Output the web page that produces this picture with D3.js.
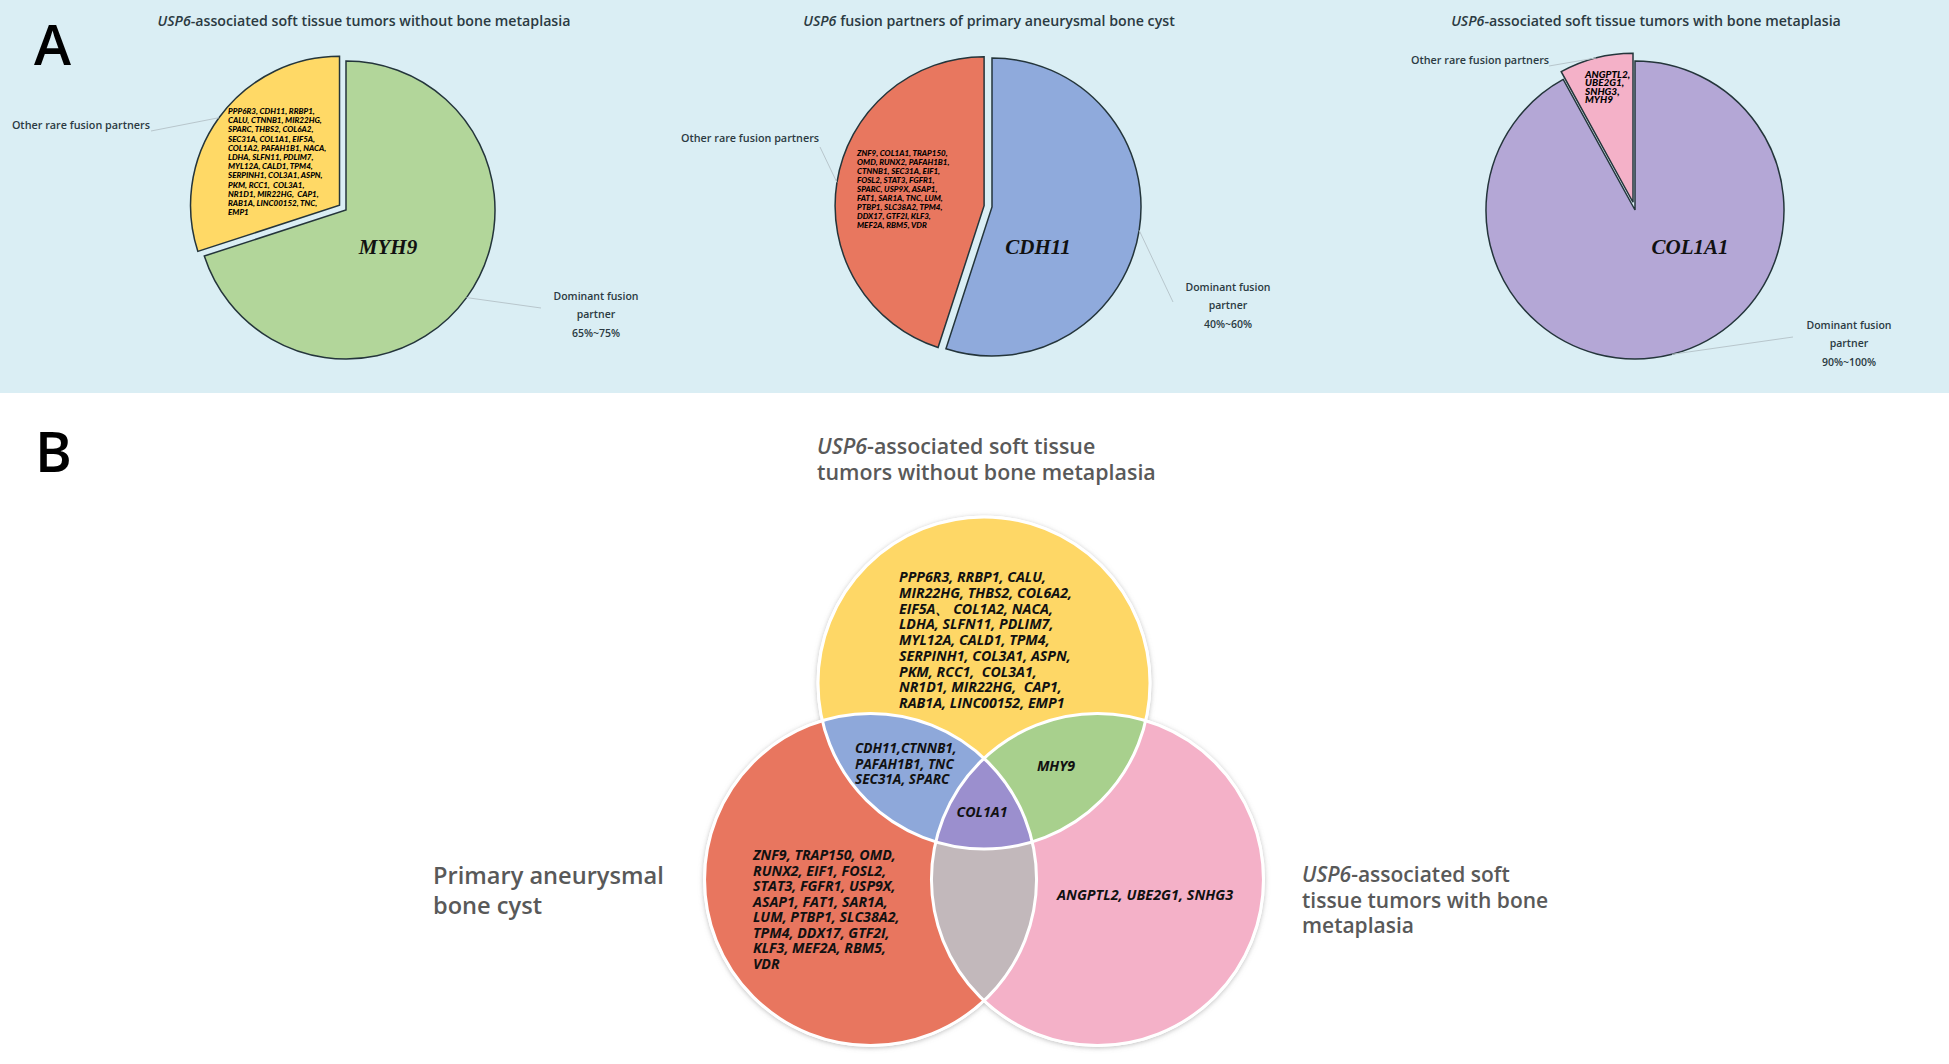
<!DOCTYPE html>
<html><head><meta charset="utf-8">
<script src="https://cdn.jsdelivr.net/npm/d3@7"></script>
<style>body{margin:0;background:#fff;} svg{display:block;}</style>
</head><body>
<svg id="c" width="1949" height="1064"></svg>
<script>
// ---------------- DATA ----------------
const pieTitleItalic = ["USP6", "USP6", "USP6"];
const pieTitleRest = ["-associated soft tissue tumors without bone metaplasia",
                      " fusion partners of primary aneurysmal bone cyst",
                      "-associated soft tissue tumors with bone metaplasia"];
const pieCategories = ["Dominant fusion partner", "Other rare fusion partners"];
const pieDominantGene = ["MYH9", "CDH11", "COL1A1"];
const pieValues = [[70, 30], [55, 45], [92, 8]];
const pieRanges = ["65%~75%", "40%~60%", "90%~100%"];
const pieOtherGenes1 = ["PPP6R3, CDH11, RRBP1,", "CALU, CTNNB1, MIR22HG,", "SPARC, THBS2, COL6A2,",
  "SEC31A, COL1A1, EIF5A,", "COL1A2, PAFAH1B1, NACA,", "LDHA, SLFN11, PDLIM7,", "MYL12A, CALD1, TPM4,",
  "SERPINH1, COL3A1, ASPN,", "PKM, RCC1,  COL3A1,", "NR1D1, MIR22HG,  CAP1,", "RAB1A, LINC00152, TNC,", "EMP1"];
const pieOtherGenes2 = ["ZNF9, COL1A1, TRAP150,", "OMD, RUNX2, PAFAH1B1,", "CTNNB1, SEC31A, EIF1,",
  "FOSL2, STAT3, FGFR1,", "SPARC, USP9X, ASAP1,", "FAT1, SAR1A, TNC, LUM,", "PTBP1, SLC38A2, TPM4,",
  "DDX17, GTF2I, KLF3,", "MEF2A, RBM5, VDR"];
const pieOtherGenes3 = ["ANGPTL2,", "UBE2G1,", "SNHG3,", "MYH9"];

const vennSetLabelsItalic = ["USP6", "", "USP6"];
const vennSetLabels = [["-associated soft tissue", "tumors without bone metaplasia"],
                       ["Primary aneurysmal", "bone cyst"],
                       ["-associated soft", "tissue tumors with bone", "metaplasia"]];
// regions: sets involved (0 = without metaplasia, 1 = primary ABC, 2 = with metaplasia)
const vennRegionSets = [[0], [1], [2], [0, 1], [0, 2], [1, 2], [0, 1, 2]];
const vennRegionGenes = [
  ["PPP6R3, RRBP1, CALU,", "MIR22HG, THBS2, COL6A2,", "EIF5A\u3001 COL1A2, NACA,", "LDHA, SLFN11, PDLIM7,",
   "MYL12A, CALD1, TPM4,", "SERPINH1, COL3A1, ASPN,", "PKM, RCC1,  COL3A1,", "NR1D1, MIR22HG,  CAP1,",
   "RAB1A, LINC00152, EMP1"],
  ["ZNF9, TRAP150, OMD,", "RUNX2, EIF1, FOSL2,", "STAT3, FGFR1, USP9X,", "ASAP1, FAT1, SAR1A,",
   "LUM, PTBP1, SLC38A2,", "TPM4, DDX17, GTF2I,", "KLF3, MEF2A, RBM5,", "VDR"],
  ["ANGPTL2, UBE2G1, SNHG3"],
  ["CDH11,CTNNB1,", "PAFAH1B1, TNC", "SEC31A, SPARC"],
  ["MHY9"],
  [],
  ["COL1A1"]
];

// ---------------- STYLE / LAYOUT ----------------
const pieColors = [["#B2D69A", "#FFD966"], ["#8FAADC", "#E8775F"], ["#B4A7D6", "#F4B1C8"]];
const vennColors = ["#FED766", "#E8765F", "#F4B1C8", "#8EA8DA", "#A8D08D", "#C2B8BB", "#9B8FCE"];
const R = 149, EXPLODE = 8;
const pieLayout = [
  {cx: 346, cy: 210, title: 364, otherLbl: [150, 129, "end"], otherLine: [151, 131],
   domLbl: [596, 300], domLine: [541, 308], genes: [228, 114, 9.2, 8], center: [388, 254]},
  {cx: 992, cy: 207, title: 989, otherLbl: [750, 142, "middle"], otherLine: [820, 147],
   domLbl: [1228, 291], domLine: [1173, 302], genes: [857, 156, 9, 8], center: [1038, 254]},
  {cx: 1635, cy: 210, title: 1646, otherLbl: [1480, 64, "middle"], otherLine: [1549, 66],
   domLbl: [1849, 329], domLine: [1793, 337], genes: [1585, 78, 8.4, 10], center: [1690, 254]}
];
const pieGeneLists = [pieOtherGenes1, pieOtherGenes2, pieOtherGenes3];

const svg = d3.select("#c");
const defs = svg.append("defs");

// panel A background
svg.append("rect").attr("x", 0).attr("y", 0).attr("width", 1949).attr("height", 393).attr("fill", "#DAEEF4");

svg.append("text").attr("x", 34).attr("y", 65).attr("font-family", "Open Sans").attr("font-weight", 600)
  .attr("font-size", 56).attr("fill", "#000").text("A");
svg.append("text").attr("x", 35).attr("y", 472).attr("font-family", "Open Sans").attr("font-weight", 600)
  .attr("font-size", 56).attr("fill", "#000").text("B");

const pieGen = d3.pie().sort(null).value(d => d);
const arcGen = d3.arc().innerRadius(0).outerRadius(R);

pieLayout.forEach((L, i) => {
  // title
  const t = svg.append("text").attr("x", L.title).attr("y", 26).attr("text-anchor", "middle")
    .attr("font-family", "Open Sans").attr("font-weight", 600).attr("font-size", 14.2).attr("fill", "#2b3a42");
  t.append("tspan").attr("font-style", "italic").text(pieTitleItalic[i]);
  t.append("tspan").text(pieTitleRest[i]);

  const g = svg.append("g").attr("transform", `translate(${L.cx},${L.cy})`);
  const arcs = pieGen(pieValues[i]);
  const pts = [];
  arcs.forEach((a, j) => {
    const mid = (a.startAngle + a.endAngle) / 2;
    const off = j === 1 ? EXPLODE : 0;
    const dx = Math.sin(mid) * off, dy = -Math.cos(mid) * off;
    g.append("path").attr("d", arcGen(a)).attr("transform", `translate(${dx},${dy})`)
      .attr("fill", pieColors[i][j]).attr("stroke", "#24353b").attr("stroke-width", 1.5)
      .attr("stroke-linejoin", "miter");
    pts.push([L.cx + dx + Math.sin(mid) * R, L.cy + dy - Math.cos(mid) * R]);
  });

  // leader lines
  svg.append("line").attr("x1", L.domLine[0]).attr("y1", L.domLine[1]).attr("x2", pts[0][0]).attr("y2", pts[0][1])
    .attr("stroke", "#b8c6cc").attr("stroke-width", 1);
  svg.append("line").attr("x1", L.otherLine[0]).attr("y1", L.otherLine[1]).attr("x2", pts[1][0]).attr("y2", pts[1][1])
    .attr("stroke", "#b8c6cc").attr("stroke-width", 1);

  // labels
  svg.append("text").attr("x", L.otherLbl[0]).attr("y", L.otherLbl[1]).attr("text-anchor", L.otherLbl[2])
    .attr("font-family", "Open Sans").attr("font-weight", 600).attr("font-size", 10.8).attr("fill", "#2b3a42")
    .text(pieCategories[1]);
  const dl = svg.append("text").attr("text-anchor", "middle").attr("font-family", "Open Sans")
    .attr("font-weight", 600).attr("font-size", 10.5).attr("fill", "#2b3a42");
  const words = pieCategories[0].split(" ");
  [words.slice(0, 2).join(" "), words.slice(2).join(" "), pieRanges[i]].forEach((s, k) => {
    dl.append("tspan").attr("x", L.domLbl[0]).attr("y", L.domLbl[1] + k * 18.3).text(s);
  });

  // center gene
  svg.append("text").attr("x", L.center[0]).attr("y", L.center[1]).attr("text-anchor", "middle")
    .attr("font-family", "Liberation Serif").attr("font-weight", 700).attr("font-style", "italic")
    .attr("font-size", 21).attr("fill", "#111").text(pieDominantGene[i]);

  // gene list
  const gl = svg.append("text").attr("font-family", "Lato").attr("font-weight", 900).attr("font-style", "italic")
    .attr("font-size", L.genes[3]).attr("fill", "#000");
  pieGeneLists[i].forEach((s, k) => {
    gl.append("tspan").attr("x", L.genes[0]).attr("y", L.genes[1] + k * L.genes[2]).attr("xml:space", "preserve").text(s);
  });
});

// ---------------- VENN ----------------
const vr = 166, vcx = 984, vcy = 814, vd = 131;
const vAngles = [-90, 150, 30];
const vC = vAngles.map(a => [vcx + vd * Math.cos(a * Math.PI / 180), vcy + vd * Math.sin(a * Math.PI / 180)]);

const f = defs.append("filter").attr("id", "sh").attr("x", "-20%").attr("y", "-20%").attr("width", "140%").attr("height", "140%");
f.append("feDropShadow").attr("dx", 0).attr("dy", 1).attr("stdDeviation", 2.5).attr("flood-color", "#888").attr("flood-opacity", 0.55);

vC.forEach((c, i) => {
  defs.append("clipPath").attr("id", "vc" + i).append("circle").attr("cx", c[0]).attr("cy", c[1]).attr("r", vr);
});

const vg = svg.append("g");
// shadows
vC.forEach(c => vg.append("circle").attr("cx", c[0]).attr("cy", c[1]).attr("r", vr + 1.5)
  .attr("fill", "#fff").attr("filter", "url(#sh)"));

vennRegionSets.forEach((sets, ri) => {
  let parent = vg.append("g");
  for (let k = 1; k < sets.length; k++) {
    parent = parent.append("g").attr("clip-path", `url(#vc${sets[k]})`);
  }
  const c = vC[sets[0]];
  parent.append("circle").attr("cx", c[0]).attr("cy", c[1]).attr("r", vr).attr("fill", vennColors[ri]);
});
vC.forEach(c => vg.append("circle").attr("cx", c[0]).attr("cy", c[1]).attr("r", vr)
  .attr("fill", "none").attr("stroke", "#fff").attr("stroke-width", 3));

// venn texts
const vennTextLayout = [
  {x: 899, y: 582, dy: 15.75, anchor: "start", size: 14.2},
  {x: 753, y: 860, dy: 15.5, anchor: "start", size: 14.2},
  {x: 1057, y: 900, dy: 15, anchor: "start", size: 14.4},
  {x: 855, y: 753, dy: 15.5, anchor: "start", size: 13.6},
  {x: 1056, y: 771, dy: 15, anchor: "middle", size: 14.2},
  {x: 0, y: 0, dy: 0, anchor: "start", size: 14},
  {x: 982, y: 817, dy: 15, anchor: "middle", size: 14.2}
];
vennRegionGenes.forEach((lines, ri) => {
  const L = vennTextLayout[ri];
  const tx = vg.append("text").attr("font-family", "Open Sans").attr("font-weight", 700).attr("font-style", "italic")
    .attr("font-size", L.size).attr("fill", "#111").attr("text-anchor", L.anchor);
  lines.forEach((s, k) => tx.append("tspan").attr("x", L.x).attr("y", L.y + k * L.dy).attr("xml:space", "preserve").text(s));
});

const vennLabelLayout = [
  {x: 817, y: 454, dy: 26, size: 21.4},
  {x: 433, y: 884, dy: 30, size: 23.6},
  {x: 1302, y: 882, dy: 25.5, size: 21}
];
vennSetLabels.forEach((lines, i) => {
  const L = vennLabelLayout[i];
  const tx = svg.append("text").attr("font-family", "Open Sans").attr("font-weight", 600)
    .attr("font-size", L.size).attr("fill", "#595959");
  lines.forEach((s, k) => {
    const sp = tx.append("tspan").attr("x", L.x).attr("y", L.y + k * L.dy);
    if (k === 0 && vennSetLabelsItalic[i]) {
      sp.append("tspan").attr("font-style", "italic").text(vennSetLabelsItalic[i]);
      sp.append("tspan").text(s);
    } else sp.text(s);
  });
});
</script>
</body></html>
